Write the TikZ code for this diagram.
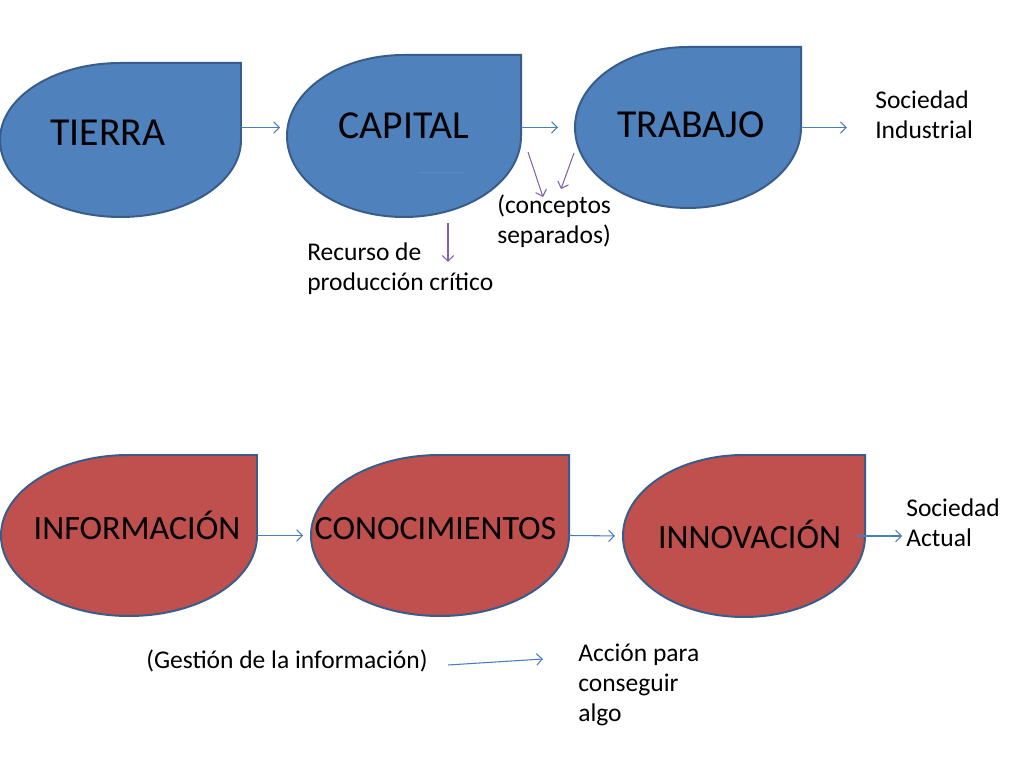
\documentclass[tikz,border=0pt]{standalone}
\usepackage{fontspec}
\setmainfont{Carlito}
\usetikzlibrary{arrows.meta}
\definecolor{Azul}{HTML}{4F81BD}
\definecolor{Rojo}{HTML}{C0504D}
\definecolor{Borde}{HTML}{385D8A}
\definecolor{Flecha}{HTML}{4A7EBB}
\definecolor{Morado}{HTML}{8064A2}

% gota: nombre, centro x, centro y, radio x, radio y, color
\newcommand{\gota}[6]{%
  \filldraw[fill=#6, draw=Borde, line width=1.4pt]
    (#2,#3) ++(0,#5) -- ++(#4,0) -- ++(0,-#5)
    arc[start angle=0, end angle=-270, x radius=#4, y radius=#5] -- cycle;
  \node[inner sep=0, outer sep=0, minimum width={2*#4*0.0248cm},
    minimum height={2*#5*0.0248cm}] (#1) at (#2,#3) {};
}

\tikzset{
  rotulo/.style={font=\fontsize{28}{34}\selectfont, anchor=base, inner sep=0},
  rotulochico/.style={rotulo, font=\fontsize{24}{29}\selectfont},
  nota/.style={font=\fontsize{18}{21.2}\selectfont, align=left,
    anchor=base west, inner sep=0},
  flecha/.style={draw=Flecha, line width=0.75pt,
    -{Straight Barb[length=4pt,width=8pt]}},
  flechamorada/.style={flecha, draw=Morado}
}

\begin{document}
\begin{tikzpicture}[x=0.0248cm, y=0.0248cm]
  \fill[white] (0,0) rectangle (1024,768);
  \useasboundingbox (0,0) rectangle (1024,768);

  % fila de arriba
  \gota{tierra}{120.5}{628}{120.5}{77}{Azul}
  \gota{capital}{404}{632}{117}{81}{Azul}
  \gota{trabajo}{688}{640.5}{113}{80.5}{Azul}
  \draw[Azul!92!white, line width=0.6pt] (420,596) -- (465,596);
  \node[rotulo] (tierra-t) at (108,622) {TIERRA};
  \node[rotulo] (capital-t) at (404,629) {CAPITAL};
  \node[rotulo] (trabajo-t) at (691,630) {TRABAJO};
  % nota: la base es la de la ultima linea
  \node[nota] (industrial) at (875,629) {Sociedad\\Industrial};
  \node[nota] (separados) at (497,524) {(conceptos\\separados)};
  \node[nota] (recurso) at (307,477) {Recurso de\\producción crítico};

  \draw[flecha, shorten >=4.9pt] (tierra.east |- trabajo) -- (capital.west |- trabajo);
  \draw[flecha, shorten >=12pt] (capital.east |- trabajo) -- (trabajo.west);
  \draw[flecha, shorten >=19.8pt] (trabajo.east) -- (industrial.west |- trabajo);

  \coordinate (p1) at (528,616);
  \coordinate (p2) at (543,571);
  \coordinate (p3) at (574,615);
  \coordinate (p4) at (561,579);
  \coordinate (p5) at (448,545);
  \coordinate (p6) at (448,506);
  \draw[flechamorada] (p1) -- (p2);
  \draw[flechamorada] (p3) -- (p4);
  \draw[flechamorada] (p5) -- (p6);

  % fila de abajo
  \gota{informacion}{129}{232.5}{128}{80.5}{Rojo}
  \gota{conocimientos}{440}{232.5}{129}{80.5}{Rojo}
  \gota{innovacion}{744}{232}{121}{81}{Rojo}
  \node[rotulochico] (informacion-t) at (137,228) {INFORMACIÓN};
  \node[rotulochico] (conocimientos-t) at (435.5,228) {CONOCIMIENTOS};
  \node[rotulochico] (innovacion-t) at (749.5,219) {INNOVACIÓN};
  \node[nota] (actual) at (906,221) {Sociedad\\Actual};
  \node[nota] (gestion) at (146,99) {(Gestión de la información)};
  \node[nota] (accion) at (578,46) {Acción para\\conseguir\\algo};

  \draw[flecha, shorten >=5.6pt] (informacion.east) -- (conocimientos.west);
  \draw[flecha, shorten >=5.6pt] (conocimientos.east) -- (innovacion.west);
  \draw[flecha, shorten <=-5.6pt, shorten >=2.8pt] (innovacion.east) -- (actual.west |- innovacion);

  \coordinate (g1) at (448,103);
  \coordinate (g2) at (543,109);
  \draw[flecha] (g1) -- (g2);
\end{tikzpicture}
\end{document}
